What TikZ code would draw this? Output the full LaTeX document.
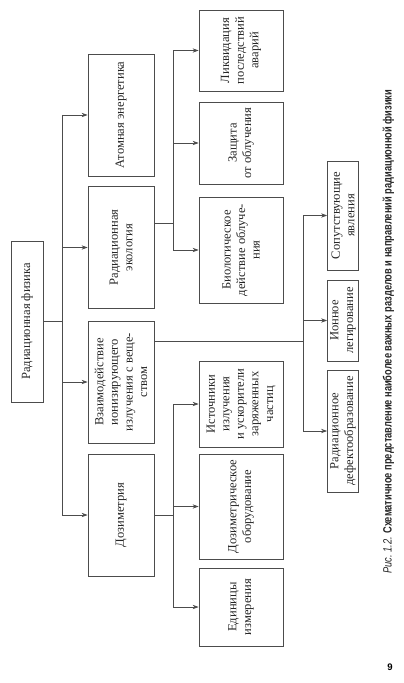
\documentclass[tikz,border=0pt]{standalone}
\usepackage{fontspec}
\setmainfont{Liberation Serif}
\newfontfamily\capfont{Liberation Sans}
\usepackage{graphicx}
\usepackage{tikz}
\usetikzlibrary{arrows.meta, calc}
\tikzset{
	every text node part/.style= {
		align=center
	},
	box/.style= {
		rectangle,
		draw=black!70,
		line width=0.7pt,
		rotate=90,
		inner sep=0.5mm,
		text=black!85,
		font=\fontsize{12.5}{14.5}\selectfont
	},
	mainbox/.style= {
		box,
		minimum width=42.7mm,
		minimum height=23.1mm
	},
	subbox/.style= {
		box,
		minimum height=29.4mm
	},
	sidebox/.style= {
		box,
		minimum height=10.85mm
	},
	link/.style= {
		draw=black!70,
		line width=0.7pt
	},
	arrow/.style= {
		link,
		-{Stealth[length=2.1mm, width=1.5mm]}
	}
}

\begin{document}
\begin{tikzpicture}[x=0.35mm, y=-0.35mm]
	\useasboundingbox (0,0) rectangle (403,683);
	
	\node (root)[box, minimum width=56.35mm, minimum height=11.2mm] at (27,321.5) {Радиационная физика};
	
	\node (atom)[mainbox] at (121,115) {Атомная энергетика};
	\node (eco)[mainbox] at (121,247.5) {Радиационная\\экология};
	\node (inter)[mainbox] at (121,382) {Взаимодействие\\ионизирующего\\излучения с веще-\\ством};
	\node (dosim)[mainbox] at (121,515) {Дозиметрия};
	
	\node (liq)[subbox, minimum width=28.35mm] at (241,50.5) {Ликвидация\\последствий\\аварий};
	\node (prot)[subbox, minimum width=28.7mm] at (241,143) {Защита\\от облучения};
	\node (bio)[subbox, minimum width=37.1mm] at (241,250) {Биологическое\\действие облуче-\\ния};
	\node (src)[subbox, minimum width=30.1mm] at (241,404) {Источники\\излучения\\и ускорители\\заряженных\\частиц};
	\node (equip)[subbox, minimum width=36.75mm] at (241,506.5) {Дозиметрическое\\оборудование};
	\node (units)[subbox, minimum width=27.3mm] at (241,607) {Единицы\\измерения};
	
	\node (sop)[sidebox, minimum width=38.15mm] at (343,215.5) {Сопутствующие\\явления};
	\node (ion)[sidebox, minimum width=28.35mm] at (343,320.5) {Ионное\\легирование};
	\node (def)[sidebox, minimum width=42.7mm] at (343,431) {Радиационное\\дефектообразование};
	
	% branch points
	\coordinate (trunk) at (62,0);
	\coordinate (ecobr) at (173,223);
	\coordinate (intbr) at (303,341);
	\coordinate (dosbr) at (173,515);
	
	\draw[link] (root.south) -- (root.south -| trunk);
	\draw[link] (trunk |- atom.north) -- (trunk |- dosim.north);
	\foreach \n in {atom, eco, inter, dosim}
		\draw[arrow] (trunk |- \n.north) -- (\n.north);
	
	\draw[link] (eco.south |- ecobr) -- (ecobr);
	\draw[link] (ecobr |- liq.north) -- (ecobr |- bio.north);
	\foreach \n in {liq, prot, bio}
		\draw[arrow] (ecobr |- \n.north) -- (\n.north);
	
	\draw[link] (inter.south |- intbr) -- (intbr);
	\draw[link] (intbr |- sop.north) -- (intbr |- def.north);
	\foreach \n in {sop, ion, def}
		\draw[arrow] (intbr |- \n.north) -- (\n.north);
	
	\draw[link] (dosim.south) -- (dosim.south -| dosbr);
	\draw[link] (dosbr |- src.north) -- (dosbr |- units.north);
	\foreach \n in {src, equip, units}
		\draw[arrow] (dosbr |- \n.north) -- (\n.north);
	
	\node (caption)[rotate=90, anchor=west, inner sep=0pt, text=black!85] at (388.5,574) {\resizebox{169.4mm}{\height}{\capfont\fontsize{12}{14}\selectfont{\itshape Рис.~1.2.} \bfseries Схематичное представление наиболее важных разделов и направлений радиационной физики}};
	\node (pagenum)[inner sep=0pt, font=\capfont\bfseries\fontsize{9.5}{11}\selectfont] at (390,667) {9};
	
\end{tikzpicture}
\end{document}
